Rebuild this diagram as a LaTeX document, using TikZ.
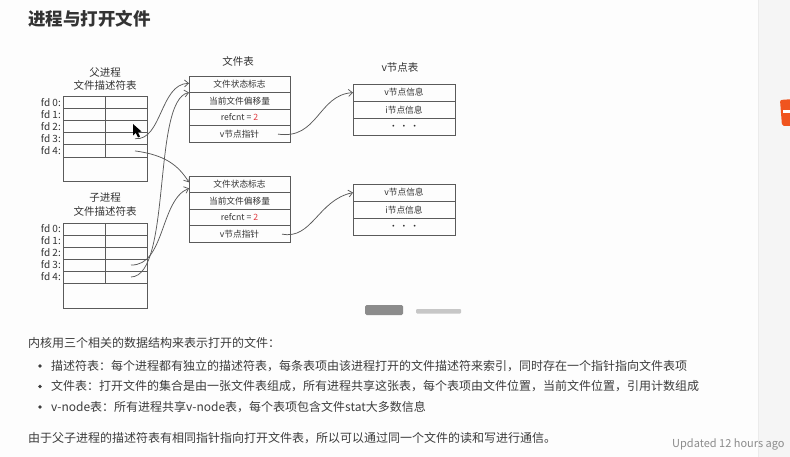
\documentclass[tikz,border=0pt]{standalone}
\usepackage{fontspec}
\setmainfont{Noto Sans CJK SC}
\usetikzlibrary{arrows.meta,calc}
\definecolor{linec}{HTML}{5A5A5A}
\definecolor{txt}{HTML}{333333}
\definecolor{bodyc}{HTML}{3C3C3C}
\definecolor{stripc}{HTML}{F5F5F5}
\definecolor{refred}{HTML}{E0393E}
\definecolor{orangeic}{HTML}{F0541E}
\definecolor{updc}{HTML}{8C8C8C}
\definecolor{pagec}{HTML}{FDFDFD}
\tikzset{
  fdcell/.style={draw=linec, line width=0.7pt, minimum width=42pt, minimum height=12.2pt, inner sep=0pt, outer sep=0pt},
  fdlabel/.style={text=txt, font=\fontsize{10}{11}\selectfont, inner sep=0pt, anchor=east},
  ftcell/.style={draw=linec, line width=0.7pt, minimum width=101pt, minimum height=16.6pt, inner sep=0pt, outer sep=0pt, text=txt, font=\fontsize{8.7}{10}\selectfont},
  vtcell/.style={draw=linec, line width=0.7pt, minimum width=102pt, minimum height=17.2pt, inner sep=0pt, outer sep=0pt, text=txt, font=\fontsize{8.7}{10}\selectfont},
  caption/.style={text=txt, font=\fontsize{10.5}{11}\selectfont, inner sep=0pt},
  bodytext/.style={text=bodyc, font=\fontsize{12}{14}\selectfont, inner sep=0pt, anchor=west},
  hand/.style={draw=linec, line width=0.75pt, -{Straight Barb[length=4pt,width=7pt]}},
  bulletdot/.style={circle, fill=bodyc, inner sep=0pt, minimum size=3.6pt}
}
\begin{document}
\begin{tikzpicture}[x=1pt, y=-1pt]
\clip (0,0) rectangle (790,457);
\useasboundingbox (0,0) rectangle (790,457);
\fill[pagec] (0,0) rectangle (790,457);
\fill[stripc] (758,0) rectangle (790,457);
\draw[color=black!8, line width=0.8pt] (758,0) -- (758,457);
\fill[orangeic, rounded corners=2pt] (780,100) -- (794,99) -- (794,126) -- (782,126) -- cycle;
\fill[white] (783,110) rectangle (794,113);

% title
\node[text=txt, font=\fontsize{17.5}{20}\selectfont\bfseries, anchor=west, inner sep=0pt] (title) at (28,19) {进程与打开文件};

% parent fd table
\node[caption] (pcap1) at (105,73) {父进程};
\node[caption] (pcap2) at (105,85) {文件描述符表};
\foreach \i in {0,...,4}{
  \node[fdcell] (pa\i) at (84,{96+12.2*\i+6.1}) {};
  \node[fdcell] (pb\i) at (126,{96+12.2*\i+6.1}) {};
  \node[fdlabel] (pl\i) at (61,{96+12.2*\i+6.1}) {fd \i:};
}
\node[draw=linec, line width=0.7pt, minimum width=84pt, minimum height=24pt, inner sep=0pt, outer sep=0pt] (pbot) at (105,169) {};

% child fd table
\node[caption] (ccap1) at (105,198) {子进程};
\node[caption] (ccap2) at (105,211) {文件描述符表};
\foreach \i in {0,...,4}{
  \node[fdcell] (ca\i) at (84,{223+12*\i+6}) {};
  \node[fdcell] (cb\i) at (126,{223+12*\i+6}) {};
  \node[fdlabel] (cl\i) at (61,{223+12*\i+6}) {fd \i:};
}
\node[draw=linec, line width=0.7pt, minimum width=84pt, minimum height=25pt, inner sep=0pt, outer sep=0pt] (cbot) at (105,295.5) {};

% file tables
\node[caption] (ftcap) at (238,61) {文件表};
\node[ftcell] (ft1a) at (239.5,84.3) {文件状态标志};
\node[ftcell] (ft1b) at (239.5,100.9) {当前文件偏移量};
\node[ftcell] (ft1c) at (239.5,117.5) {refcnt = \textcolor{refred}{2}};
\node[ftcell] (ft1d) at (239.5,134.1) {v节点指针};

\node[ftcell] (ft2a) at (239.5,184.3) {文件状态标志};
\node[ftcell] (ft2b) at (239.5,200.9) {当前文件偏移量};
\node[ftcell] (ft2c) at (239.5,217.5) {refcnt = \textcolor{refred}{2}};
\node[ftcell] (ft2d) at (239.5,234.1) {v节点指针};

% v-node tables
\node[caption] (vtcap) at (400,68) {v节点表};
\node[vtcell] (vt1a) at (404,92.6) {v节点信息};
\node[vtcell] (vt1b) at (404,109.8) {i节点信息};
\node[vtcell] (vt1c) at (404,127) {· · ·};

\node[vtcell] (vt2a) at (404,192.6) {v节点信息};
\node[vtcell] (vt2b) at (404,209.8) {i节点信息};
\node[vtcell] (vt2c) at (404,227) {· · ·};

% hand drawn pointers
\draw[hand] ([xshift=-12pt]pb3.east) .. controls (162,141) and (160,84) .. ([yshift=1pt]ft1a.west);
\draw[hand] ([xshift=-12pt]pb4.east) .. controls (165,155) and (178,165) .. ([yshift=2pt]ft2a.west);
\draw[hand] ([xshift=-16pt]cb3.east) .. controls (165,266) and (160,200) .. ([yshift=-4pt]ft2a.west);
\draw[hand] ([xshift=-16pt]cb4.east) .. controls (172,276) and (152,100) .. (ft1a.south west);
\draw[hand] ([xshift=-12pt]ft1d.east) .. controls (318,140) and (318,95) .. (vt1a.west);
\draw[hand] ([xshift=-8pt]ft2d.east) .. controls (312,240) and (318,200) .. (vt2a.west);

% mouse cursor
\fill[black] (133,124) -- (133,135.5) -- (135.8,132.8) -- (138,137.5) -- (140,136.6) -- (137.9,132) -- (141.6,131.6) -- cycle;

% watermark smudges
\fill[black!45, rounded corners=1.5pt] (365,305) rectangle (403,315);
\fill[black!22, rounded corners=1pt] (416,309) rectangle (461,313.5);

% body text
\node[bodytext] (l0) at (28,343) {内核用三个相关的数据结构来表示打开的文件：};
\node[bulletdot] (d1) at (40,366) {};
\node[bodytext] (l1) at (51,366) {描述符表：每个进程都有独立的描述符表，每条表项由该进程打开的文件描述符来索引，同时存在一个指针指向文件表项};
\node[bulletdot] (d2) at (40,386.5) {};
\node[bodytext] (l2) at (51,386.5) {文件表：打开文件的集合是由一张文件表组成，所有进程共享这张表，每个表项由文件位置，当前文件位置，引用计数组成};
\node[bulletdot] (d3) at (40,407) {};
\node[bodytext] (l3) at (51,407) {v-node表：所有进程共享v-node表，每个表项包含文件stat大多数信息};
\node[bodytext] (l4) at (28,438) {由于父子进程的描述符表有相同指针指向打开文件表，所以可以通过同一个文件的读和写进行通信。};
\node[text=updc, font=\fontsize{11}{13}\selectfont, anchor=west, inner sep=0pt] (upd) at (672,444) {Updated 12 hours ago};
\end{tikzpicture}
\end{document}
